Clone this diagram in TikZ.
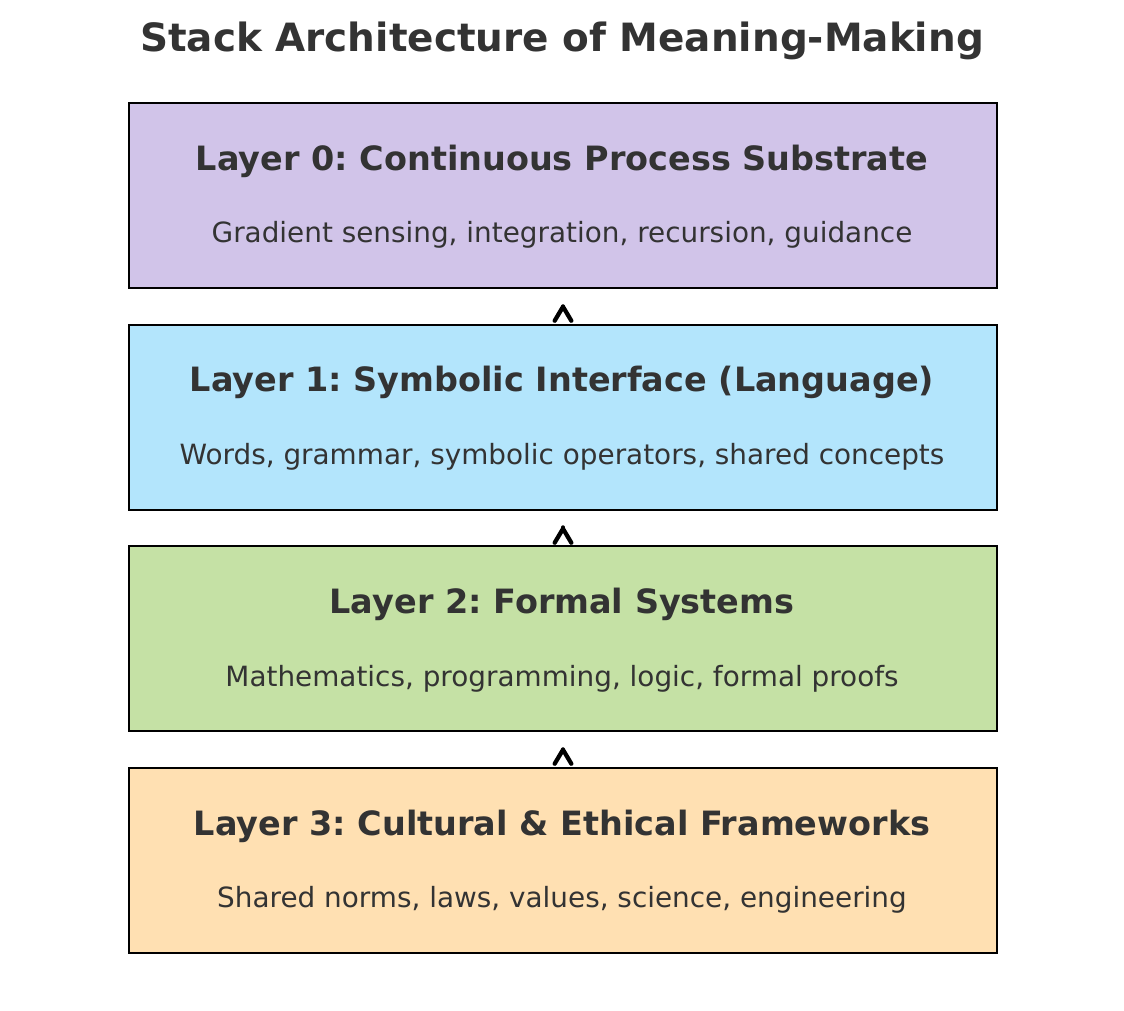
\documentclass[tikz,border=0pt]{standalone}
\usepackage{fontspec}
\setmainfont{DejaVu Sans}
\frenchspacing
\definecolor{inkgray}{HTML}{333333}
\definecolor{substrate}{HTML}{D1C4E9}
\definecolor{symbolic}{HTML}{B3E5FC}
\definecolor{formal}{HTML}{C5E1A5}
\definecolor{cultural}{HTML}{FFE0B2}
\usetikzlibrary{arrows.meta,calc}

\begin{document}
\begin{tikzpicture}[
  x=0.75pt, y=-0.75pt,
  layer/.style={draw=black, line width=1.9pt, minimum width=651pt, minimum height=138.75pt, inner sep=0pt},
  head/.style={font=\fontsize{25.1}{29}\selectfont\bfseries, text=inkgray, inner sep=0pt},
  sub/.style={font=\fontsize{20.9}{24}\selectfont, text=inkgray, inner sep=0pt},
  up/.style={-{Straight Barb[length=10.5pt, width=12.5pt, line cap=round, line join=round]}, line width=3.2pt, line cap=round,
             shorten <=13pt, shorten >=11.5pt}
]
\useasboundingbox (0,0) rectangle (1124,1010);
\node[font=\fontsize{29.2}{34}\selectfont\bfseries, text=inkgray] (title) at (562,41) {Stack Architecture of Meaning-Making};

\node[layer, fill=substrate] (l0) at (563,195.5) {};
\node[layer, fill=symbolic]  (l1) at (563,417.5) {};
\node[layer, fill=formal]    (l2) at (563,638.5) {};
\node[layer, fill=cultural]  (l3) at (563,860.5) {};

% headings and contents
\node[head] (h0) at (562,161.5) {Layer 0: Continuous Process Substrate};
\node[sub]  (s0) at (562,234.5) {Gradient sensing, integration, recursion, guidance};
\node[head] (h1) at (562,382.5) {Layer 1: Symbolic Interface (Language)};
\node[sub]  (s1) at (562,456.5) {Words, grammar, symbolic operators, shared concepts};
\node[head] (h2) at (562,604.5) {Layer 2: Formal Systems};
\node[sub]  (s2) at (562,678.5) {Mathematics, programming, logic, formal proofs};
\node[head] (h3) at (562,826.5) {Layer 3: Cultural \& Ethical Frameworks};
\node[sub]  (s3) at (562,899.5) {Shared norms, laws, values, science, engineering};

\draw[up] (l1.north) -- (l0.south);
\draw[up] (l2.north) -- (l1.south);
\draw[up] (l3.north) -- (l2.south);
\end{tikzpicture}
\end{document}
